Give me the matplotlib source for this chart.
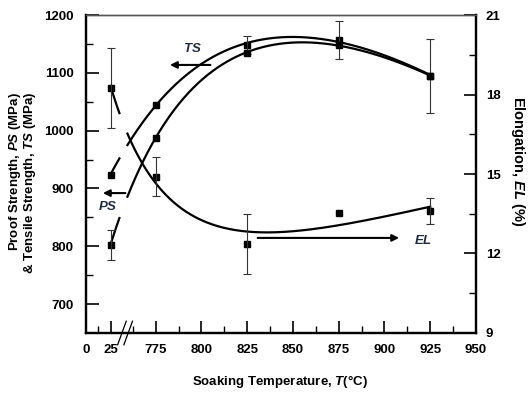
import numpy as np
import matplotlib
matplotlib.use('Agg')
import matplotlib.pyplot as plt

plt.rcParams['font.family'] = ['Liberation Sans', 'DejaVu Sans']
plt.rcParams['font.weight'] = 'bold'
plt.rcParams['mathtext.fontset'] = 'custom'
plt.rcParams['mathtext.it'] = 'Liberation Sans:italic:bold'
plt.rcParams['mathtext.rm'] = 'Liberation Sans:bold'
plt.rcParams['mathtext.bf'] = 'Liberation Sans:bold'

# data (soaking temperature in degC)
temps = np.array([25, 775, 825, 875, 925])
ts = np.array([924, 1045, 1148, 1157, 1095])
ts_err = np.array([0, 0, 16, 33, 64])
ps = np.array([803, 988, 1135, 1148, 1095])
ps_err = np.array([26, 0, 0, 0, 0])
el = np.array([18.25, 14.9, 12.36, 13.53, 13.6])
el_err = np.array([1.5, 0.74, 1.13, 0, 0.5])

xticks = [0, 25, 775, 800, 825, 850, 875, 900, 925, 950]
xminor = [12.5, 762.5, 787.5, 812.5, 837.5, 862.5, 887.5, 912.5, 937.5]

# broken x axis: 0-25 squeezed in front of 762.5-950
bp_x = [-1000, 0, 25, 762.5, 2000]
bp_u = [202, 737, 750.4, 762.5, 2000]
def fwd(x):
    return np.interp(x, bp_x, bp_u)
def inv(u):
    return np.interp(u, bp_u, bp_x)

fig = plt.figure(figsize=(5.28, 3.93), dpi=100)
ax = fig.add_axes([0.163, 0.1527, 0.7385, 0.8091])
ax.set_xscale('function', functions=(fwd, inv))
ax2 = ax.twinx()

def trend(vals, axis):
    # cubic trend line, fitted against log of the displayed position
    u = fwd(temps)
    g = lambda v: np.log(v - 690)
    c = np.polyfit(g(u), vals, 3)
    ug = np.linspace(u[0], u[-1], 400)
    for seg in (ug <= 755.6, ug >= 759.4):
        axis.plot(inv(ug[seg]), np.polyval(c, g(ug[seg])), color='k', lw=1.6)

def points(vals, err, axis):
    axis.plot(temps, vals, 's', color='k', ms=4.5)
    m = err > 0
    axis.errorbar(temps[m], vals[m], yerr=err[m], fmt='none', ecolor='#333333',
                  elinewidth=0.8, capsize=3, capthick=0.8)

trend(ts, ax)
trend(ps, ax)
trend(el, ax2)
points(ts, ts_err, ax)
points(ps, ps_err, ax)
points(el, el_err, ax2)

ax.set_xlim(0, 950)
ax.set_ylim(650, 1200)
ax2.set_ylim(9, 21)
ax.set_xticks(xticks)
ax.set_xticklabels([str(t) for t in xticks])
ax.set_xticks(xminor, minor=True)
ax.set_yticks([700, 800, 900, 1000, 1100, 1200])
ax.set_yticks([750, 850, 950, 1050, 1150], minor=True)
ax2.set_yticks([9, 12, 15, 18, 21])
ax2.set_yticks([10.5, 13.5, 16.5, 19.5], minor=True)

for a in (ax, ax2):
    a.tick_params(which='major', direction='in', length=9, width=1.2, labelsize=9.5)
    a.tick_params(which='minor', direction='in', length=5, width=1.0)
ax.tick_params(axis='y', pad=9)
ax.tick_params(axis='x', pad=8)
ax2.tick_params(axis='y', pad=7)
for a in (ax, ax2):
    for side in ('left', 'right', 'bottom'):
        a.spines[side].set_linewidth(1.6)
    a.spines['top'].set_linewidth(1.0)
    a.spines['top'].set_color('#555555')

# axis break marks
for cx in (0.092, 0.108):
    ax.plot([cx - 0.011, cx + 0.011], [-0.037, 0.037], transform=ax.transAxes,
            color='k', lw=0.9, clip_on=False)

# arrows and series labels
arw = dict(arrowstyle='-|>', color='k', lw=1.5, mutation_scale=10)
ax.annotate('', xy=(0.208, 0.843), xytext=(0.326, 0.843), xycoords='axes fraction', arrowprops=arw)
ax.text(0.272, 0.896, '$TS$', transform=ax.transAxes, ha='center', va='center', fontsize=9.5, color='#1f2a44')
ax.annotate('', xy=(0.036, 0.440), xytext=(0.108, 0.440), xycoords='axes fraction', arrowprops=arw)
ax.text(0.056, 0.399, '$PS$', transform=ax.transAxes, ha='center', va='center', fontsize=9.5, color='#1f2a44')
ax.annotate('', xy=(0.81, 0.299), xytext=(0.433, 0.299), xycoords='axes fraction', arrowprops=arw)
ax.text(0.864, 0.292, '$EL$', transform=ax.transAxes, ha='center', va='center', fontsize=9.5, color='#1f2a44')

fig.text(0.028, 1 - 92 / 393, 'Proof Strength, $PS$ (MPa)', rotation=90, ha='center', va='top', fontsize=9.5)
fig.text(0.057, 1 - 92 / 393, '& Tensile Strength, $TS$ (MPa)', rotation=90, ha='center', va='top', fontsize=9.5)
fig.text(518 / 528, 1 - 161 / 393, 'Elongation, $EL$ (%)', rotation=270, ha='center', va='center', fontsize=10.5)
fig.text(280 / 528, 1 - 382 / 393, 'Soaking Temperature, $T$(°C)', ha='center', va='center', fontsize=9.5)

fig.savefig('out.png', dpi=100)
